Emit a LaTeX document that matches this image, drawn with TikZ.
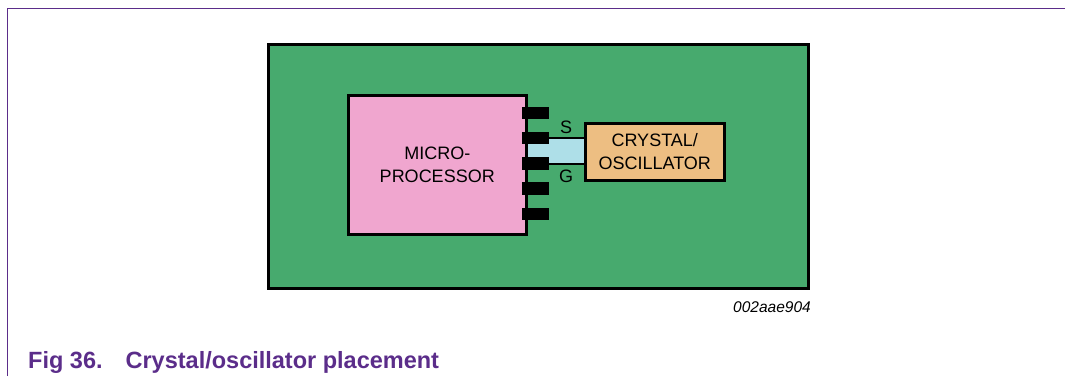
\documentclass[tikz,border=0pt]{standalone}
\usepackage{fontspec}
\setmainfont{Liberation Sans}
\begin{document}
\begin{tikzpicture}[x=1pt,y=-1pt,
  board/.style={draw=black,line width=3pt,fill=boardgreen,minimum width=540pt,minimum height=244pt,anchor=north west,inner sep=0pt},
  chip/.style={draw=black,line width=2.5pt,fill=chippink,minimum width=178pt,minimum height=139pt,anchor=north west,inner sep=0pt,align=center,font=\fontsize{18}{22.5}\selectfont},
  xbox/.style={draw=black,line width=2.5pt,fill=xtaltan,minimum width=139pt,minimum height=57pt,anchor=north west,inner sep=0pt,align=center,font=\fontsize{18}{22.5}\selectfont},
  pin/.style={fill=black,minimum width=27pt,minimum height=12.5pt,inner sep=0pt,anchor=west},
  siglabel/.style={font=\fontsize{18}{20}\selectfont,inner sep=0pt},
  conn/.style={draw=black,line width=2pt}]
\definecolor{boardgreen}{HTML}{47AA6E}
\definecolor{chippink}{HTML}{F0A6CF}
\definecolor{xtaltan}{HTML}{EDBE82}
\definecolor{striplblue}{HTML}{AEDFE8}
\definecolor{framepurple}{HTML}{5B2D8A}
\useasboundingbox (0,0) rectangle (1065,376);
% frame
\coordinate (fbl) at (7,376);
\coordinate (ftl) at (7,8);
\coordinate (ftr) at (1065,8);
\draw[framepurple,line width=1pt] (fbl) -- (ftl) -- (ftr);
% board
\node[board] (pcb) at (267,43) {};
\node[chip] (mpu) at (347,94) {MICRO-\\PROCESSOR};
\node[xbox] (xtal) at (584,122) {CRYSTAL/\\OSCILLATOR};
% pin positions
\coordinate (p1) at (522,113);
\coordinate (p2) at (522,138);
\coordinate (p3) at (522,163.5);
\coordinate (p4) at (522,188.5);
\coordinate (p5) at (522,214);
% strip
\fill[striplblue] (mpu.east |- p2) rectangle (xtal.west |- p3);
\node[pin] (pin1) at (p1) {};
\node[pin] (pin2) at (p2) {};
\node[pin] (pin3) at (p3) {};
\node[pin] (pin4) at (p4) {};
\node[pin] (pin5) at (p5) {};
\draw[conn] (pin2.east) -- (pin2.east -| xtal.west);
\draw[conn] (pin3.east) -- (pin3.east -| xtal.west);
\node[siglabel] (slab) at (566,127) {S};
\node[siglabel] (glab) at (566,176) {G};
% ids
\node[anchor=base east,inner sep=0pt,font=\fontsize{15.5}{17}\selectfont\itshape] (figid) at (811,312) {002aae904};
\node[anchor=base west,inner sep=0pt,text=framepurple,font=\fontsize{23.5}{26}\selectfont\bfseries] (cap) at (28,368) {Fig 36.\hspace{23pt}Crystal/oscillator placement};
\end{tikzpicture}
\end{document}
